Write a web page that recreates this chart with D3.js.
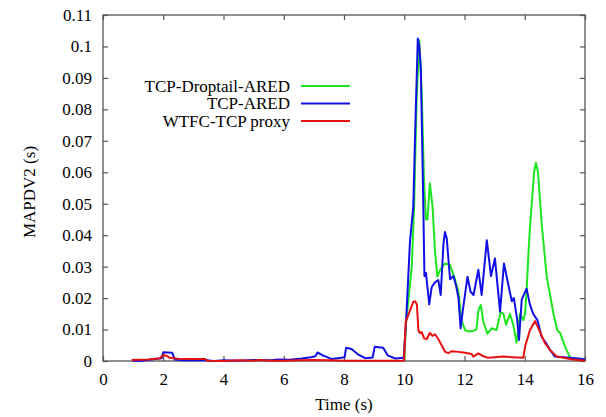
<!DOCTYPE html>
<meta charset="utf-8">
<style>
  body { margin: 0; background: #fff; }
</style>
<body>
<script src="https://d3js.org/d3.v7.min.js"></script>
<script>
// series names and colours (legend order)
const names  = ["TCP-Droptail-ARED", "TCP-ARED", "WTFC-TCP proxy"];
const colors = ["#1ee61e", "#1010e6", "#e61010"];

// TCP-Droptail-ARED
const greenT = [10.0, 10.06, 10.25, 10.33, 10.41, 10.5, 10.58, 10.66, 10.72, 10.77, 10.85, 10.94, 11.02, 11.1, 11.19, 11.35, 11.52, 11.65, 11.8, 11.9,
  12.02, 12.18, 12.35, 12.4, 12.46, 12.54, 12.63, 12.76, 12.9, 13.06, 13.2, 13.29, 13.38, 13.51, 13.62, 13.73, 13.84, 13.95, 14.01, 14.06,
  14.12, 14.17, 14.31, 14.37, 14.44, 14.5, 14.56, 14.73, 14.95, 15.08, 15.17, 15.34, 15.5, 15.72, 16.0];
const greenV = [0.0, 0.012, 0.03, 0.05, 0.083, 0.102, 0.085, 0.056, 0.045, 0.045, 0.0565, 0.049, 0.035, 0.0268, 0.029, 0.031, 0.0305, 0.027, 0.022, 0.013,
  0.0098, 0.0094, 0.0098, 0.0102, 0.016, 0.0178, 0.0124, 0.0087, 0.0104, 0.0098, 0.0155, 0.015, 0.0115, 0.015, 0.0114, 0.0058, 0.015, 0.013, 0.015, 0.022,
  0.0337, 0.042, 0.06, 0.063, 0.06, 0.052, 0.0438, 0.0268, 0.0152, 0.0098, 0.009, 0.0045, 0.0012, 0.0003, 0.0002];

// TCP-ARED
const blueT = [1.0, 1.3, 1.6, 1.95, 2.0, 2.15, 2.3, 2.38, 2.6, 3.0, 3.5, 3.7, 4.0, 4.5, 5.0, 5.5, 5.8, 6.2, 6.6, 6.9, 7.05, 7.12, 7.3, 7.6, 7.9, 8.02,
  8.07, 8.25, 8.45, 8.7, 8.95, 9.02, 9.3, 9.45, 9.7, 9.98, 10.06, 10.19, 10.3, 10.36, 10.45, 10.5, 10.55, 10.63, 10.67, 10.72, 10.83, 10.91, 11.02,
  11.13, 11.21, 11.3, 11.35, 11.41, 11.52, 11.63, 11.72, 11.8, 11.87, 11.96, 12.1, 12.2, 12.3, 12.46, 12.57, 12.74, 12.88, 13.01, 13.18, 13.31,
  13.45, 13.57, 13.64, 13.75, 13.81, 13.9, 14.06, 14.17, 14.28, 14.42, 14.56, 14.7, 14.84, 15.0, 15.5, 15.94, 16.0];
const blueV = [0.0, 0.0001, 0.0005, 0.0009, 0.0028, 0.0027, 0.0026, 0.0005, 0.0002, 0.0002, 0.0002, 0.0, 0.0002, 0.0001, 0.0003, 0.0002, 0.0005, 0.0004,
  0.0008, 0.0012, 0.0015, 0.0027, 0.0018, 0.0006, 0.001, 0.0012, 0.0042, 0.0038, 0.0022, 0.0009, 0.0011, 0.0045, 0.0042, 0.0018, 0.0008, 0.001,
  0.0125, 0.038, 0.049, 0.072, 0.1025, 0.1, 0.093, 0.051, 0.027, 0.028, 0.018, 0.0235, 0.025, 0.0257, 0.021, 0.037, 0.041, 0.039, 0.026, 0.027,
  0.024, 0.02, 0.0104, 0.0172, 0.0268, 0.022, 0.021, 0.029, 0.021, 0.0384, 0.027, 0.0326, 0.0157, 0.031, 0.0245, 0.019, 0.02, 0.013, 0.0067,
  0.0195, 0.023, 0.018, 0.015, 0.013, 0.0077, 0.0058, 0.0035, 0.0014, 0.001, 0.0006, 0.0005];

// WTFC-TCP proxy
const redT = [0.95, 1.5, 1.9, 2.0, 2.1, 2.22, 2.5, 3.0, 3.4, 3.45, 4.0, 4.5, 5.0, 5.2, 5.6, 6.0, 6.5, 7.0, 7.5, 8.0, 9.0, 9.99, 10.05, 10.19, 10.3,
  10.36, 10.42, 10.47, 10.52, 10.58, 10.66, 10.75, 10.85, 10.94, 11.02, 11.13, 11.24, 11.35, 11.46, 11.57, 11.8, 12.02, 12.24, 12.29, 12.46, 12.6,
  12.79, 13.0, 13.29, 13.6, 13.95, 14.01, 14.17, 14.34, 14.5, 14.67, 14.84, 15.06, 15.6, 16.0];
const redV = [0.0003, 0.0005, 0.0009, 0.0019, 0.0017, 0.001, 0.0007, 0.0006, 0.0006, 0.0001, 0.0, 0.0002, 0.0001, 0.0003, 0.0001, 0.0001, 0.0002, 0.0003,
  0.0002, 0.0001, 0.0001, 0.0001, 0.0125, 0.016, 0.0188, 0.019, 0.018, 0.0098, 0.0089, 0.0092, 0.0072, 0.007, 0.0089, 0.008, 0.0085, 0.007, 0.005,
  0.003, 0.0025, 0.0031, 0.0029, 0.0026, 0.0022, 0.0014, 0.0024, 0.0016, 0.001, 0.0012, 0.0014, 0.0012, 0.001, 0.0045, 0.0098, 0.0127, 0.0094,
  0.0057, 0.0035, 0.0014, 0.0005, 0.0001];

const xTicks = d3.range(0, 17, 2);
const yTicks = d3.range(0, 0.111, 0.01);

const width = 606, height = 417;
const plot = {left: 103, right: 585, top: 15, bottom: 361};
const font = 'Liberation Serif';
const axisColor = '#555';

const svg = d3.select('body').append('svg')
  .attr('width', width)
  .attr('height', height)
  .attr('font-family', font)
  .attr('font-size', 17);

const x = d3.scaleLinear().domain([0, 16]).range([plot.left, plot.right]);
const y = d3.scaleLinear().domain([0, 0.11]).range([plot.bottom, plot.top]);

const tickLen = 5;
function styleAxis(g) {
  g.attr('font-family', font).attr('font-size', 17);
  g.select('.domain').remove();
  g.selectAll('line').attr('stroke', axisColor).attr('stroke-width', 1.2);
  g.selectAll('text').attr('fill', '#000');
}

// ticks on all four sides, pointing inward
svg.append('g')
  .attr('transform', `translate(0,${plot.bottom})`)
  .call(d3.axisBottom(x).tickValues(xTicks).tickSize(-tickLen).tickPadding(12).tickFormat(d3.format('d')))
  .call(styleAxis);
svg.append('g')
  .attr('transform', `translate(0,${plot.top})`)
  .call(d3.axisTop(x).tickValues(xTicks).tickSize(-tickLen).tickFormat(''))
  .call(styleAxis);
svg.append('g')
  .attr('transform', `translate(${plot.left},0)`)
  .call(d3.axisLeft(y).tickValues(yTicks).tickSize(-tickLen).tickPadding(11).tickFormat(d => d3.format('.2~f')(d)))
  .call(styleAxis);
svg.append('g')
  .attr('transform', `translate(${plot.right},0)`)
  .call(d3.axisRight(y).tickValues(yTicks).tickSize(-tickLen).tickFormat(''))
  .call(styleAxis);

svg.append('rect')
  .attr('x', plot.left).attr('y', plot.top)
  .attr('width', plot.right - plot.left)
  .attr('height', plot.bottom - plot.top)
  .attr('fill', 'none')
  .attr('stroke', axisColor)
  .attr('stroke-width', 1.3);

// axis titles
svg.append('text')
  .attr('x', (plot.left + plot.right) / 2)
  .attr('y', 410)
  .attr('text-anchor', 'middle')
  .text('Time (s)');
svg.append('text')
  .attr('transform', 'translate(35,192) rotate(-90)')
  .attr('text-anchor', 'middle')
  .text('MAPDV2 (s)');

// lines
const series = [
  {t: greenT, v: greenV},
  {t: blueT, v: blueV},
  {t: redT, v: redV}
];
const line = d3.line().x(d => x(d[0])).y(d => y(d[1]));

series.forEach((s, i) => {
  svg.append('path')
    .attr('fill', 'none')
    .attr('stroke', colors[i])
    .attr('stroke-width', 2)
    .attr('stroke-linejoin', 'round')
    .attr('d', line(d3.zip(s.t, s.v)));
});

// legend
const legend = svg.append('g').attr('transform', 'translate(290,86)');
names.forEach((n, i) => {
  const g = legend.append('g').attr('transform', `translate(0,${i * 17.5})`);
  g.append('text')
    .attr('x', 0).attr('dy', '0.33em')
    .attr('text-anchor', 'end')
    .text(n);
  g.append('line').attr('x1', 11).attr('x2', 60).attr('y1', 0).attr('y2', 0)
    .attr('stroke', colors[i]).attr('stroke-width', 2);
});
</script>
</body>
</html>
